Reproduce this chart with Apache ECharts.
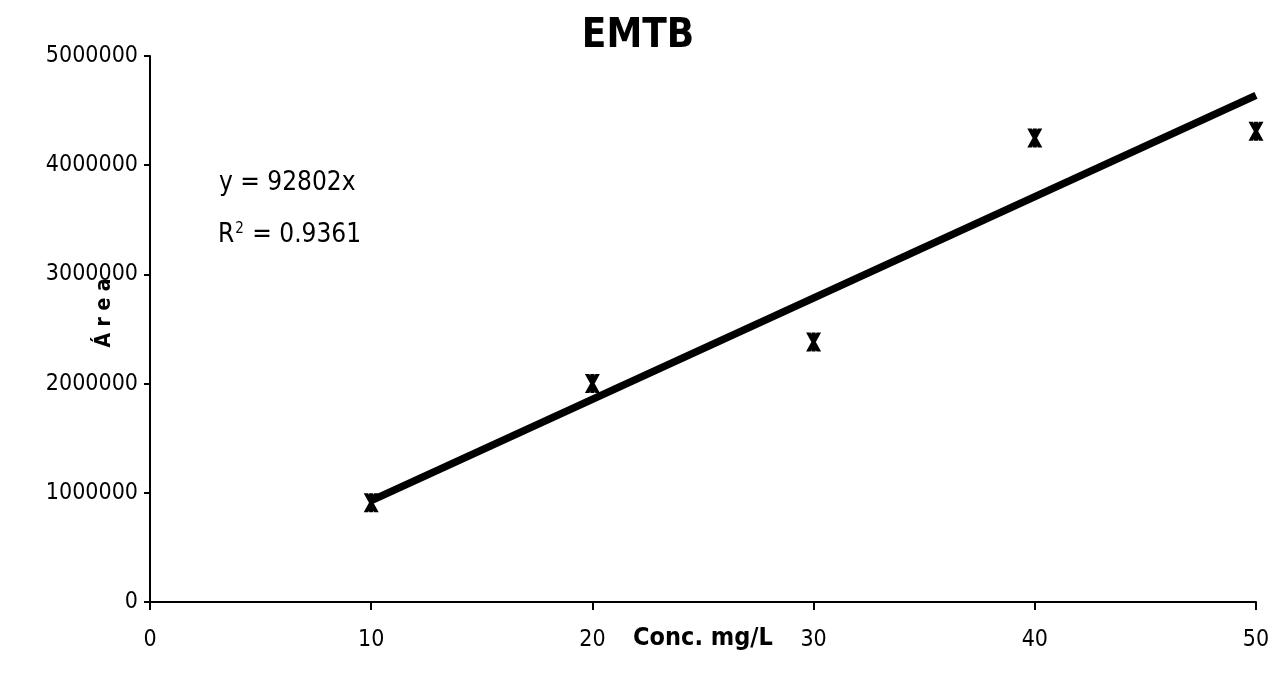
<!DOCTYPE html>
<html>
<head>
<meta charset="utf-8">
<title>EMTB</title>
<script src="https://cdn.jsdelivr.net/npm/echarts@6/dist/echarts.min.js"></script>
<style>
  html, body { margin: 0; padding: 0; background: #fff; }
  #chart { width: 1273px; height: 679px; }
</style>
</head>
<body>
<div id="chart"></div>
<script>
// Calibration data: concentration (mg/L) vs. peak area
const concentrations = [10, 20, 30, 40, 50];
const areas = [910000, 2000000, 2380000, 4250000, 4310000];

// Linear fit through the origin, as stated in the annotation
const slope = 92802;
const rSquared = '0.9361';
const fitRange = [10, 50];

const xTicks = [0, 10, 20, 30, 40, 50];
const yTicks = [0, 1000000, 2000000, 3000000, 4000000, 5000000];

const FONT = '"Liberation Sans Narrow", "Arial Narrow", "DejaVu Sans Condensed", sans-serif';

// Asterisk-style marker: two diagonals plus a vertical bar
const starMarker = 'path://M0,0 L3,0 L10,12 L7,12 Z M7,0 L10,0 L3,12 L0,12 Z M3.6,0 L6.4,0 L6.4,12 L3.6,12 Z';

const scatterData = concentrations.map((c, i) => [c, areas[i]]);
const fitLine = fitRange.map(x => [x, slope * x]);

const chart = echarts.init(document.getElementById('chart'), null, { renderer: 'canvas' });

chart.setOption({
  animation: false,
  backgroundColor: '#ffffff',
  title: {
    text: 'EMTB',
    left: 633,
    top: 12,
    textAlign: 'center',
    textStyle: { fontFamily: FONT, fontSize: 40, fontWeight: 'bold', color: '#000' }
  },
  grid: { left: 150, right: 17, top: 56, bottom: 77, containLabel: false, outerBoundsMode: 'none' },
  xAxis: {
    type: 'value',
    min: 0,
    max: 50,
    interval: 10,
    name: 'Conc. mg/L',
    nameLocation: 'middle',
    nameGap: 24,
    nameMoveOverlap: false,
    nameTextStyle: { fontFamily: FONT, fontSize: 25, fontWeight: 'bold', color: '#000' },
    axisLine: { show: true, onZero: false, lineStyle: { color: '#000', width: 2 } },
    axisTick: { show: true, inside: false, length: 8, lineStyle: { color: '#000', width: 2 } },
    axisLabel: {
      margin: 27,
      fontFamily: FONT, fontSize: 23, color: '#000',
      formatter: v => xTicks.includes(v) ? String(v) : ''
    },
    splitLine: { show: false }
  },
  yAxis: {
    type: 'value',
    min: 0,
    max: 5000000,
    interval: 1000000,
    axisLine: { show: true, lineStyle: { color: '#000', width: 2 } },
    axisTick: { show: true, inside: false, length: 6, lineStyle: { color: '#000', width: 2 } },
    axisLabel: {
      margin: 12,
      fontFamily: FONT, fontSize: 23, color: '#000',
      formatter: v => yTicks.includes(v) ? String(v) : ''
    },
    splitLine: { show: false }
  },
  series: [
    {
      type: 'line',
      data: fitLine,
      showSymbol: false,
      lineStyle: { color: '#000', width: 7.5 },
      z: 2
    },
    {
      type: 'scatter',
      data: scatterData,
      symbol: starMarker,
      symbolSize: [15, 19],
      itemStyle: { color: '#000', opacity: 1 },
      z: 3
    }
  ],
  graphic: [
    {
      type: 'text',
      x: 105,
      y: 313,
      rotation: Math.PI / 2,
      style: {
        text: 'Á r e a',
        align: 'center',
        verticalAlign: 'middle',
        fontFamily: FONT, fontSize: 21, fontWeight: 'bold', fill: '#000'
      }
    },
    {
      type: 'text',
      left: 219,
      top: 170,
      style: {
        text: 'y = ' + slope + 'x',
        fontFamily: FONT, fontSize: 26, fill: '#000'
      }
    },
    {
      type: 'text',
      left: 218,
      top: 222,
      style: {
        text: '{b|R}{s|2}{b| = ' + rSquared + '}',
        rich: {
          b: { fontFamily: FONT, fontSize: 26, color: '#000' },
          s: { fontFamily: FONT, fontSize: 15, color: '#000', verticalAlign: 'top', padding: [0, 1, 12, 1] }
        }
      }
    }
  ]
});
</script>
</body>
</html>
